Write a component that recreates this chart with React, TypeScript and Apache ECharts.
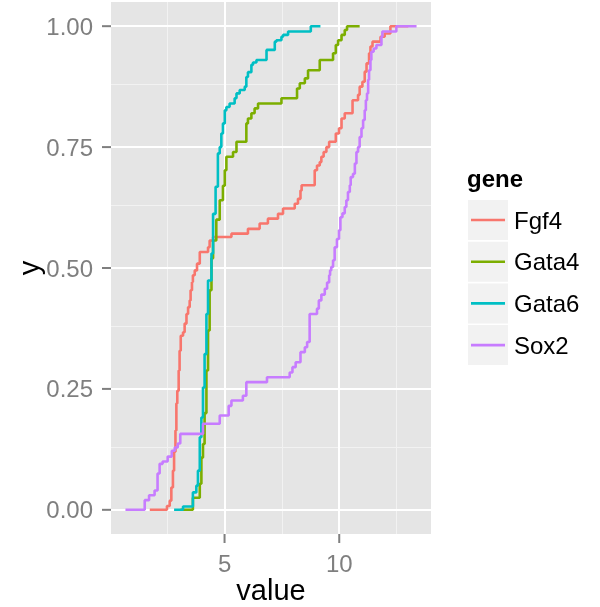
import { useEffect, useRef } from 'react';
import * as echarts from 'echarts';

const FONT = '"Liberation Sans", Arial, Helvetica, sans-serif';

const genes = ['Fgf4', 'Gata4', 'Gata6', 'Sox2'];
const geneColors = ['#F8766D', '#7CAE00', '#00BFC4', '#C77CFF'];

// ECDF steps: [value, cumulative fraction]
const fgf4: [number, number][] = [
  [1.74, 0], [2.49, 0.008], [2.61, 0.019], [2.68, 0.046], [2.75, 0.081], [2.8, 0.12],
  [2.86, 0.164], [2.9, 0.22], [2.94, 0.246], [3.0, 0.288], [3.04, 0.329], [3.09, 0.36],
  [3.19, 0.367], [3.26, 0.385], [3.34, 0.405], [3.41, 0.419], [3.48, 0.433], [3.52, 0.454],
  [3.58, 0.471], [3.62, 0.485], [3.7, 0.495], [3.8, 0.509], [3.92, 0.533], [4.28, 0.543],
  [4.35, 0.557], [4.5, 0.564], [5.3, 0.571], [6.02, 0.581], [6.53, 0.592], [6.89, 0.602],
  [7.33, 0.612], [7.55, 0.623], [8.06, 0.633], [8.2, 0.643], [8.31, 0.66], [8.36, 0.671],
  [8.93, 0.702], [9.03, 0.712], [9.15, 0.719], [9.22, 0.73], [9.32, 0.74], [9.44, 0.75],
  [9.56, 0.761], [9.85, 0.778], [9.99, 0.789], [10.1, 0.809], [10.24, 0.82], [10.58, 0.847],
  [10.82, 0.858], [10.89, 0.875], [11.01, 0.885], [11.11, 0.906], [11.19, 0.923], [11.3, 0.944],
  [11.36, 0.958], [11.45, 0.968], [11.8, 0.978], [11.98, 0.985], [12.23, 1], [13.01, 1],
];

const gata4: [number, number][] = [
  [3.08, 0], [3.62, 0.025], [3.92, 0.054], [3.99, 0.108], [4.06, 0.136], [4.13, 0.2],
  [4.21, 0.288], [4.28, 0.371], [4.35, 0.454], [4.43, 0.52], [4.5, 0.557], [4.64, 0.6],
  [4.79, 0.64], [4.93, 0.67], [5.01, 0.702], [5.08, 0.73], [5.37, 0.74], [5.52, 0.761],
  [5.95, 0.799], [6.02, 0.809], [6.17, 0.82], [6.31, 0.83], [6.46, 0.84], [7.48, 0.851],
  [8.16, 0.871], [8.28, 0.882], [8.5, 0.892], [8.64, 0.909], [9.15, 0.93], [9.73, 0.944],
  [9.85, 0.961], [9.95, 0.971], [10.1, 0.982], [10.24, 0.992], [10.34, 1], [10.89, 1],
];

const gata6: [number, number][] = [
  [2.8, 0], [3.19, 0.007], [3.62, 0.036], [3.77, 0.05], [3.84, 0.081], [3.92, 0.15],
  [3.99, 0.191], [4.06, 0.253], [4.13, 0.322], [4.21, 0.405], [4.28, 0.474], [4.43, 0.53],
  [4.5, 0.612], [4.61, 0.668], [4.71, 0.737], [4.79, 0.75], [4.86, 0.778], [4.93, 0.799],
  [5.01, 0.826], [5.08, 0.833], [5.22, 0.84], [5.44, 0.851], [5.52, 0.861], [5.66, 0.868],
  [5.88, 0.875], [5.95, 0.895], [6.02, 0.905], [6.17, 0.92], [6.24, 0.925], [6.39, 0.93],
  [6.83, 0.951], [7.19, 0.968], [7.26, 0.971], [7.48, 0.978], [7.55, 0.982], [7.77, 0.989],
  [8.76, 1], [9.18, 1],
];

const sox2: [number, number][] = [
  [0.68, 0], [1.52, 0.02], [1.71, 0.03], [1.95, 0.04], [2.08, 0.075], [2.17, 0.095],
  [2.3, 0.1], [2.52, 0.11], [2.7, 0.122], [2.83, 0.129], [2.96, 0.137], [3.07, 0.157],
  [4.06, 0.178], [4.79, 0.195], [5.18, 0.215], [5.3, 0.226], [5.8, 0.236], [5.95, 0.264],
  [6.85, 0.274], [7.84, 0.284], [7.96, 0.295], [8.1, 0.305], [8.31, 0.326], [8.5, 0.336],
  [8.6, 0.347], [8.71, 0.405], [9.03, 0.416], [9.11, 0.433], [9.22, 0.445], [9.37, 0.457],
  [9.47, 0.47], [9.56, 0.485], [9.6, 0.495], [9.65, 0.502], [9.73, 0.516], [9.8, 0.543],
  [9.9, 0.56], [9.99, 0.578], [10.05, 0.605], [10.14, 0.613], [10.24, 0.626], [10.31, 0.64],
  [10.38, 0.657], [10.46, 0.671], [10.5, 0.688], [10.6, 0.695], [10.68, 0.716], [10.75, 0.74],
  [10.82, 0.75], [10.89, 0.771], [10.97, 0.789], [11.04, 0.806], [11.11, 0.826], [11.16, 0.847],
  [11.21, 0.861], [11.26, 0.889], [11.3, 0.909], [11.36, 0.93], [11.4, 0.947], [11.5, 0.954],
  [11.62, 0.961], [11.84, 0.978], [11.88, 0.989], [12.49, 1], [13.37, 1],
];

const geneData = [fgf4, gata4, gata6, sox2];

const xMin = 0.05;
const xMax = 14;
const yMin = -0.05;
const yMax = 1.05;
const xTicks = [5, 10];
const xMinor = [2.5, 7.5, 12.5];
const yTicks = [0, 0.25, 0.5, 0.75, 1];
const yMinor = [0.125, 0.375, 0.625, 0.875];

const App: React.FC = () => {
  const chartRef = useRef<HTMLDivElement>(null);

  useEffect(() => {
    if (!chartRef.current) return;
    const chart = echarts.init(chartRef.current, null, { renderer: 'svg' });

    const major = { color: '#FFFFFF', width: 2, type: 'solid' as const };
    const minor = { color: '#F2F2F2', width: 1, type: 'solid' as const };
    const gridLines = [
      ...xMinor.map((v) => ({ xAxis: v, lineStyle: minor })),
      ...yMinor.map((v) => ({ yAxis: v, lineStyle: minor })),
      ...xTicks.map((v) => ({ xAxis: v, lineStyle: major })),
      ...yTicks.map((v) => ({ yAxis: v, lineStyle: major })),
    ];

    // legend keys drawn by hand, ggplot style
    const legendTop = 200;
    const keyStep = 41.7;
    const legendItems: any[] = [
      {
        type: 'text',
        left: 467,
        top: 166,
        style: { text: 'gene', font: `bold 24px ${FONT}`, fill: '#000' },
      },
    ];
    genes.forEach((g, i) => {
      const y = legendTop + i * keyStep;
      legendItems.push(
        { type: 'rect', shape: { x: 468, y, width: 40, height: 40 }, style: { fill: '#F2F2F2' } },
        {
          type: 'line',
          shape: { x1: 471, y1: y + 20, x2: 505, y2: y + 20 },
          style: { stroke: geneColors[i], lineWidth: 2.6 },
        },
        {
          type: 'text',
          x: 514,
          y: y + 20,
          style: { text: g, font: `24px ${FONT}`, fill: '#000', verticalAlign: 'middle' },
        },
      );
    });

    const hiddenLine = { show: false, onZero: false };

    chart.setOption({
      animation: false,
      textStyle: { fontFamily: FONT },
      grid: {
        left: 111,
        right: 169,
        top: 2,
        bottom: 73,
        show: true,
        backgroundColor: '#E5E5E5',
        borderWidth: 0,
        containLabel: false,
        outerBoundsMode: 'none',
      },
      xAxis: {
        type: 'value',
        min: xMin,
        max: xMax,
        position: 'bottom',
        name: 'value',
        nameLocation: 'middle',
        nameGap: 42,
        nameMoveOverlap: false,
        nameTextStyle: { fontSize: 29, lineHeight: 28, color: '#000', fontFamily: FONT },
        axisLine: hiddenLine,
        axisTick: { show: false },
        axisLabel: { customValues: xTicks, fontSize: 24, color: '#7F7F7F', margin: 17, fontFamily: FONT },
        splitLine: { show: false },
      },
      yAxis: {
        type: 'value',
        min: yMin,
        max: yMax,
        position: 'left',
        name: 'y',
        nameLocation: 'middle',
        nameRotate: 90,
        nameGap: 68,
        nameMoveOverlap: false,
        nameTextStyle: { fontSize: 29, lineHeight: 29, color: '#000', fontFamily: FONT },
        axisLine: hiddenLine,
        axisTick: { show: false },
        axisLabel: {
          customValues: yTicks,
          fontSize: 24,
          color: '#7F7F7F',
          margin: 18,
          fontFamily: FONT,
          formatter: (v: number) => v.toFixed(2),
        },
        splitLine: { show: false },
      },
      series: [
        {
          type: 'line',
          data: [],
          z: 0,
          silent: true,
          markLine: {
            silent: true,
            z: 0,
            symbol: ['none', 'none'],
            label: { show: false },
            data: gridLines,
          },
        },
        ...genes.map((g, i) => ({
          name: g,
          type: 'line',
          step: 'end',
          z: 3,
          symbol: 'none',
          showSymbol: false,
          data: geneData[i],
          lineStyle: { color: geneColors[i], width: 2.6 },
          itemStyle: { color: geneColors[i] },
        })),
      ],
      graphic: legendItems,
    });

    // axis ticks, placed through the axes' own scales
    const tickStyle = { stroke: '#7F7F7F', lineWidth: 2 };
    const panelBottom = chart.convertToPixel({ yAxisIndex: 0 }, yMin) as number;
    const panelLeft = chart.convertToPixel({ xAxisIndex: 0 }, xMin) as number;
    const ticks: any[] = [
      ...xTicks.map((v) => {
        const px = chart.convertToPixel({ xAxisIndex: 0 }, v) as number;
        return { type: 'line', shape: { x1: px, y1: panelBottom, x2: px, y2: panelBottom + 9 }, style: tickStyle };
      }),
      ...yTicks.map((v) => {
        const py = chart.convertToPixel({ yAxisIndex: 0 }, v) as number;
        return { type: 'line', shape: { x1: panelLeft - 9, y1: py, x2: panelLeft, y2: py }, style: tickStyle };
      }),
    ];
    chart.setOption({ graphic: [...legendItems, ...ticks] });

    return () => {
      if (!chart.isDisposed()) chart.dispose();
    };
  }, []);

  return (
    <div
      ref={chartRef}
      style={{ position: 'fixed', left: 0, top: 0, width: '600px', height: '607px' }}
    />
  );
};

export default App;
